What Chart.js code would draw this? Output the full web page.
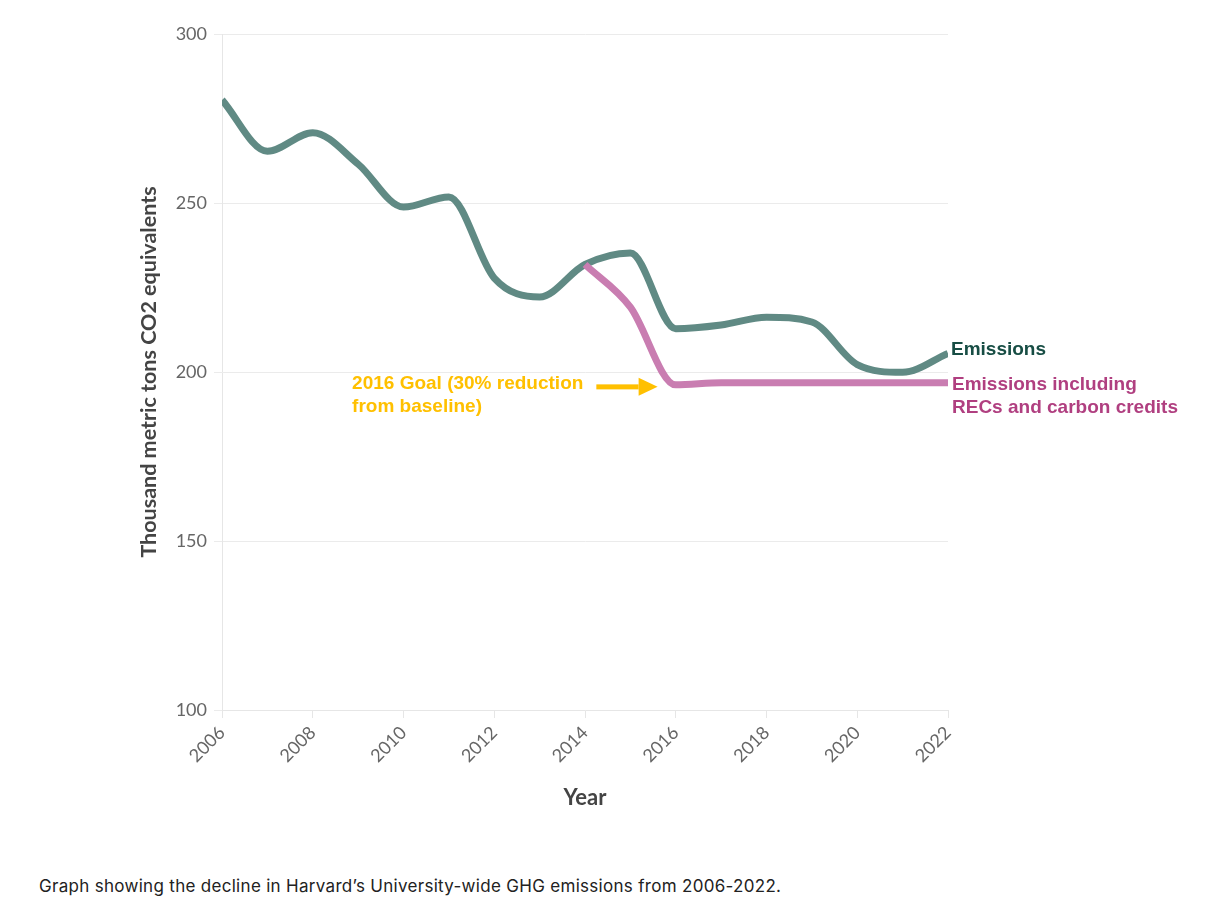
<!DOCTYPE html>
<html><head><meta charset="utf-8">
<script src="https://cdn.jsdelivr.net/npm/chart.js@4"></script>
<style>
html,body{margin:0;padding:0;background:#fff;}
#wrap{position:absolute;left:0;top:0;width:1218px;height:850px;}
#cap{position:absolute;left:39px;top:875px;font-family:Inter,"Open Sans",sans-serif;font-size:17px;letter-spacing:0.3px;color:#222;white-space:nowrap;line-height:22px;}
</style></head><body>
<div id="wrap"><canvas id="c"></canvas></div>
<div id="cap">Graph showing the decline in Harvard’s University-wide GHG emissions from 2006-2022.</div>
<script>
const years = [2006,2007,2008,2009,2010,2011,2012,2013,2014,2015,2016,2017,2018,2019,2020,2021,2022];
const emissions = [280.5,265.3,270.8,261.5,248.8,251.8,227.8,222.2,231.8,235.2,212.8,213.9,216.2,214.8,202.2,199.9,205.5];
const emissionsWithRECs = [null,null,null,null,null,null,null,null,231.8,219.2,196.2,196.8,196.8,196.8,196.8,196.8,196.8];
const yTicks = [100,150,200,250,300];
const xTickYears = [2006,2008,2010,2012,2014,2016,2018,2020,2022];
const goalValue = 195.6;
const goalArrowYears = [2014.25, 2015.6];
const emissionsLabel = ['Emissions'];
const recsLabel = ['Emissions including','RECs and carbon credits'];
const goalText = ['2016 Goal (30% reduction','from baseline)'];

const toPoints = (vals) => years.map((x,i)=>({x, y: vals[i]})).filter(p=>p.y!==null);

const labelsPlugin = {
  id:'labels',
  afterDatasetsDraw(chart){
    const ctx = chart.ctx, xs = chart.scales.x, ys = chart.scales.y;
    const last = years.length-1;
    const xEnd = xs.getPixelForValue(years[last]);
    ctx.save();
    ctx.font = 'bold 19px "Liberation Sans", Arial, sans-serif';
    ctx.textBaseline = 'middle'; ctx.textAlign = 'left';
    ctx.fillStyle = '#174d44';
    const ye = ys.getPixelForValue(emissions[last]) - 4;
    emissionsLabel.forEach((l,i)=>ctx.fillText(l, xEnd+3, ye+i*23));
    ctx.fillStyle = '#b03f80';
    const yr = ys.getPixelForValue(emissionsWithRECs[last]) + 2;
    recsLabel.forEach((l,i)=>ctx.fillText(l, xEnd+4, yr+i*23));
    // goal arrow
    const ay = ys.getPixelForValue(goalValue);
    const ax0 = xs.getPixelForValue(goalArrowYears[0]);
    const ax1 = xs.getPixelForValue(goalArrowYears[1]);
    ctx.fillStyle = '#ffc000';
    ctx.fillRect(ax0, ay-2.5, (ax1-19)-ax0, 5);
    ctx.beginPath(); ctx.moveTo(ax1-19, ay-9); ctx.lineTo(ax1, ay); ctx.lineTo(ax1-19, ay+9); ctx.closePath(); ctx.fill();
    const w = ctx.measureText(goalText[0]).width;
    const tx = ax0 - 13 - w;
    goalText.forEach((l,i)=>ctx.fillText(l, tx, ay-3+i*23));
    ctx.restore();
  }
};

const tickFont = {family:'Lato, "Open Sans", sans-serif', size:18};
new Chart(document.getElementById('c'), {
  type:'line',
  data:{datasets:[
    {label:'Emissions', data: toPoints(emissions), borderColor:'#608a84', borderWidth:7, pointRadius:0, cubicInterpolationMode:'monotone', fill:false, order:1},
    {label:'Emissions including RECs and carbon credits', data: toPoints(emissionsWithRECs), borderColor:'#c97db1', borderWidth:7, pointRadius:0, cubicInterpolationMode:'monotone', fill:false, order:0}
  ]},
  options:{
    responsive:true, maintainAspectRatio:false, animation:false, devicePixelRatio:1,
    layout:{padding:{left:128,right:270,top:34,bottom:0}},
    plugins:{legend:{display:false}, tooltip:{enabled:false}},
    scales:{
      x:{type:'linear', min:2006, max:2022,
        afterBuildTicks:s=>{s.ticks = xTickYears.map(v=>({value:v}));},
        afterFit:s=>{s.height = 140;},
        ticks:{callback:v=>String(v), minRotation:45, maxRotation:45, font:tickFont, color:'#666', padding:4},
        grid:{drawOnChartArea:false, color:'#e6e6e6', tickLength:8},
        border:{color:'#e6e6e6'},
        title:{display:true, text:'Year', font:{family:'Lato, "Open Sans", sans-serif', size:22, weight:'bold'}, color:'#444', padding:{bottom:39}}
      },
      y:{min:100, max:300,
        afterBuildTicks:s=>{s.ticks = yTicks.map(v=>({value:v}));},
        afterFit:s=>{s.width = 94;},
        ticks:{font:tickFont, color:'#666', padding:7},
        grid:{color:'#ebebeb', tickLength:8},
        border:{color:'#e6e6e6'},
        title:{display:true, text:'Thousand metric tons CO2 equivalents', font:{family:'Lato, "Open Sans", sans-serif', size:21.5, weight:'bold'}, color:'#444', padding:{top:8}}
      }
    }
  },
  plugins:[labelsPlugin]
});
</script>
</body></html>
